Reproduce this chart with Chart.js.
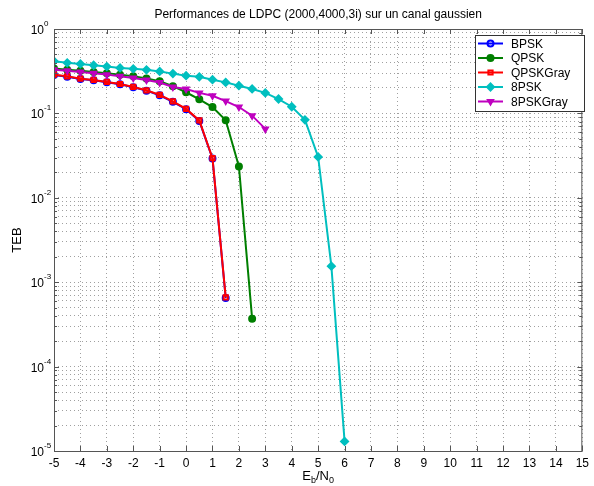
<!DOCTYPE html>
<html>
<head>
<meta charset="utf-8">
<script src="https://cdn.jsdelivr.net/npm/chart.js@4"></script>
<style>
  body { margin: 0; background: #fff; }
  #wrap { width: 594px; height: 486px; }
</style>
</head>
<body>
<div id="wrap"><canvas id="teb" width="594" height="486"></canvas></div>
<script>
// Eb/N0 points (dB)
const ebn0 = [-5, -4.5, -4, -3.5, -3, -2.5, -2, -1.5, -1, -0.5, 0, 0.5, 1, 1.5, 2, 2.5, 3, 3.5, 4, 4.5, 5, 5.5, 6];

// TEB per modulation
const bpsk = [0.285, 0.272, 0.256, 0.247, 0.234, 0.221, 0.204, 0.186, 0.164, 0.137, 0.112, 0.0815, 0.0292, 0.00065];
const qpsk = [0.340, 0.330, 0.320, 0.310, 0.300, 0.288, 0.275, 0.260, 0.240, 0.210, 0.178, 0.147, 0.119, 0.083, 0.0235, 0.00037];
const qpskGray = [0.288, 0.275, 0.258, 0.249, 0.236, 0.223, 0.206, 0.188, 0.166, 0.139, 0.113, 0.0826, 0.0295, 0.00066];
const psk8 = [0.415, 0.397, 0.386, 0.372, 0.359, 0.346, 0.337, 0.328, 0.314, 0.296, 0.280, 0.271, 0.251, 0.233, 0.213, 0.195, 0.175, 0.148, 0.120, 0.084, 0.0305, 0.00155, 0.000013];
const psk8Gray = [0.330, 0.321, 0.310, 0.299, 0.288, 0.275, 0.263, 0.249, 0.232, 0.206, 0.195, 0.175, 0.162, 0.140, 0.119, 0.094, 0.0655];

const xTicks = [-5, -4, -3, -2, -1, 0, 1, 2, 3, 4, 5, 6, 7, 8, 9, 10, 11, 12, 13, 14, 15];
const decades = [0, -1, -2, -3, -4, -5];

function pts(vals) {
    let out = [];
    for (let i = 0; i < vals.length; i++) out.push({x: ebn0[i], y: vals[i]});
    return out;
}

function series(label, vals, color, style, filled, idx, rot) {
    return {
        label: label,
        data: pts(vals),
        order: -idx, // later series drawn on top, like matlab
        borderColor: color,
        backgroundColor: filled ? color : 'rgba(0,0,0,0)',
        pointBorderColor: color,
        pointBackgroundColor: filled ? color : 'rgba(0,0,0,0)',
        pointStyle: style,
        pointRotation: rot || 0,
        pointRadius: style == 'rectRot' ? 3.5 : 3,
        pointBorderWidth: 2,
        borderWidth: 2,
        tension: 0,
        fill: false
    };
}

const datasets = [
    series('BPSK', bpsk, '#0000ff', 'circle', false, 0),
    series('QPSK', qpsk, '#007f00', 'circle', true, 1),
    series('QPSKGray', qpskGray, '#ff0000', 'rect', false, 2),
    series('8PSK', psk8, '#00bfbf', 'rectRot', true, 3),
    series('8PSKGray', psk8Gray, '#bf00bf', 'triangle', true, 4, 180)
];

// minor + major log ticks
const yTickVals = [];
for (let e = -5; e <= 0; e++) {
    for (let m = 1; m <= 9; m++) {
        let v = m * Math.pow(10, e);
        if (v <= 1.0000001) yTickVals.push(v);
    }
}

const F = 'Arial, "Liberation Sans", sans-serif';

const decor = {
    id: 'decor',
    afterDraw(chart) {
        const ctx = chart.ctx;
        const a = chart.chartArea;
        const xs = chart.scales.x, ys = chart.scales.y;
        ctx.save();
        // axes box
        ctx.strokeStyle = '#555';
        ctx.lineWidth = 1;
        ctx.strokeRect(a.left + 0.5, a.top + 0.5, a.right - a.left - 1, a.bottom - a.top);
        // ticks inward
        ctx.beginPath();
        for (let t of xTicks) {
            let px = Math.round(xs.getPixelForValue(t)) + 0.5;
            ctx.moveTo(px, a.bottom); ctx.lineTo(px, a.bottom - 5);
            ctx.moveTo(px, a.top); ctx.lineTo(px, a.top + 5);
        }
        for (let v of yTickVals) {
            let py = Math.round(ys.getPixelForValue(v)) + 0.5;
            let major = Math.abs(Math.log10(v) - Math.round(Math.log10(v))) < 1e-6;
            let len = major ? 5 : 3;
            ctx.moveTo(a.left, py); ctx.lineTo(a.left + len, py);
            ctx.moveTo(a.right, py); ctx.lineTo(a.right - len, py);
        }
        ctx.stroke();

        // y tick labels 10^k
        ctx.fillStyle = '#000';
        for (let d of decades) {
            let py = ys.getPixelForValue(Math.pow(10, d));
            let sup = String(d);
            ctx.font = '8px ' + F;
            ctx.textBaseline = 'alphabetic';
            ctx.textAlign = 'left';
            ctx.fillText(sup, 44, py - 3);
            ctx.font = '12px ' + F;
            ctx.textAlign = 'right';
            ctx.fillText('10', 44, py + 5);
        }

        // title
        ctx.font = '12px ' + F;
        ctx.textAlign = 'center';
        ctx.textBaseline = 'alphabetic';
        ctx.fillText('Performances de LDPC (2000,4000,3i) sur un canal gaussien', (a.left + a.right) / 2, 18);

        // x axis label E_b/N_0
        let cx = (a.left + a.right) / 2, by = 480;
        let parts = [['E', 13, 0], ['b', 9, 3], ['/N', 13, 0], ['0', 9, 3]];
        let w = 0;
        for (let p of parts) { ctx.font = p[1] + 'px ' + F; w += ctx.measureText(p[0]).width; }
        let x0 = cx - w / 2;
        ctx.textAlign = 'left';
        for (let p of parts) {
            ctx.font = p[1] + 'px ' + F;
            ctx.fillText(p[0], x0, by + p[2]);
            x0 += ctx.measureText(p[0]).width;
        }

        // y axis label
        ctx.save();
        ctx.translate(21, (a.top + a.bottom) / 2);
        ctx.rotate(-Math.PI / 2);
        ctx.font = '13px ' + F;
        ctx.textAlign = 'center';
        ctx.fillText('TEB', 0, 0);
        ctx.restore();

        // legend box
        let lx = 475, ly = 35, lw = 109, lh = 76;
        ctx.fillStyle = '#fff';
        ctx.fillRect(lx, ly, lw, lh);
        ctx.strokeStyle = '#333';
        ctx.lineWidth = 1;
        ctx.strokeRect(lx + 0.5, ly + 0.5, lw, lh);
        chart.data.datasets.forEach((ds, i) => {
            let yy = 43.5 + i * 14.5;
            ctx.strokeStyle = ds.borderColor;
            ctx.lineWidth = 2;
            ctx.beginPath();
            ctx.moveTo(lx + 3, yy); ctx.lineTo(lx + 28, yy);
            ctx.stroke();
            ctx.fillStyle = ds.pointBackgroundColor;
            Chart.helpers.drawPoint(ctx, {
                pointStyle: ds.pointStyle,
                rotation: ds.pointRotation,
                radius: ds.pointRadius,
                borderWidth: 2
            }, lx + 15.5, yy);
            ctx.fillStyle = '#000';
            ctx.font = '12px ' + F;
            ctx.textAlign = 'left';
            ctx.textBaseline = 'middle';
            ctx.fillText(ds.label, lx + 36, yy + 1);
        });
        ctx.restore();
    }
};

new Chart(document.getElementById('teb'), {
    type: 'line',
    data: { datasets: datasets },
    options: {
        responsive: false,
        animation: false,
        layout: { padding: { top: 29, right: 7, left: 0, bottom: 0 } },
        plugins: {
            legend: { display: false },
            title: { display: false },
            tooltip: { enabled: false }
        },
        scales: {
            x: {
                type: 'linear',
                min: -5,
                max: 15,
                afterBuildTicks: (s) => { s.ticks = xTicks.map(v => ({value: v})); },
                ticks: {
                    color: '#000',
                    font: { family: F, size: 12 },
                    padding: 5,
                    maxRotation: 0,
                    autoSkip: false
                },
                grid: { color: '#a0a0a0', lineWidth: 1, drawTicks: false },
                border: { display: false, dash: [1, 3] },
                afterFit: (s) => { s.height = 35; }
            },
            y: {
                type: 'logarithmic',
                min: 1e-5,
                max: 1,
                afterBuildTicks: (s) => { s.ticks = yTickVals.map(v => ({value: v})); },
                ticks: { display: false },
                grid: { color: '#a0a0a0', lineWidth: 1, drawTicks: false },
                border: { display: false, dash: [1, 3] },
                afterFit: (s) => { s.width = 54; }
            }
        }
    },
    plugins: [decor]
});
</script>
</body>
</html>
